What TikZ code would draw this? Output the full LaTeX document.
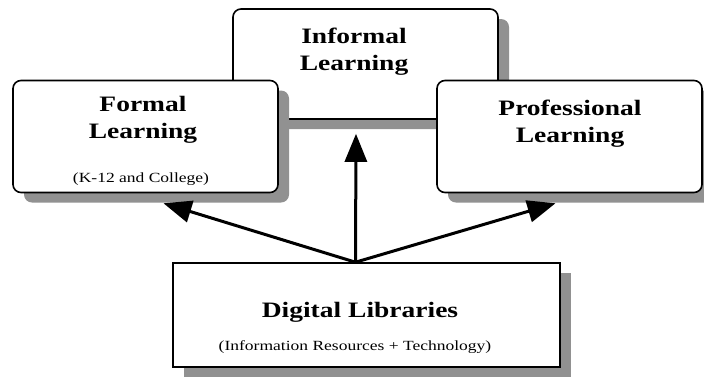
\documentclass[tikz,border=0pt]{standalone}
\usepackage{fontspec}
\setmainfont{Liberation Serif}[FakeStretch=1.25]
\usetikzlibrary{arrows.meta,shadows}
\definecolor{shadowgray}{RGB}{145,145,145}
\tikzset{
  box/.style={draw=black, line width=1.6pt, fill=white, inner sep=0pt,
    drop shadow={shadow xshift=11pt, shadow yshift=-10pt, fill=shadowgray, opacity=1}},
  roundbox/.style={box, rounded corners=8pt, minimum width=265pt, minimum height=112pt},
  title/.style={font=\fontsize{22}{27}\selectfont\bfseries, align=center, inner sep=0pt},
  sub/.style={font=\fontsize{14}{16}\selectfont, inner sep=0pt},
  arr/.style={line width=3pt, -{Triangle[length=28pt,width=22pt]}}
}
\begin{document}
\begin{tikzpicture}[x=1pt,y=-1pt]
\useasboundingbox (0,0) rectangle (704,376);
% boxes
\node[roundbox, minimum height=110pt] (informal) at (365.5,64) {};
\node[roundbox] (formal) at (145.5,136.5) {};
\node[roundbox] (prof) at (569.5,136.5) {};
\node[box, minimum width=387pt, minimum height=104pt] (dl) at (366.5,315) {};
% texts
\node[title] (informalt) at (354,52) {Informal\\Learning};
\node[title] (formalt) at (143,120) {Formal\\Learning};
\node[sub] (formals) at (141,179) {(K-12 and College)};
\node[title] (proft) at (570,124) {Professional\\Learning};
\node[title] (dlt) at (360,312) {Digital Libraries};
\node[sub] (dls) at (355,347) {(Information Resources + Technology)};
% connector ends
\coordinate (o) at ([xshift=-11pt]dl.north);
\coordinate (tf) at ([xshift=18pt,yshift=-10pt]formal.south);
\coordinate (ti) at ([xshift=-9.5pt,yshift=-14pt]informal.south);
\coordinate (tp) at ([xshift=-14pt,yshift=-10pt]prof.south);
\draw[arr] (o) -- (tf);
\draw[arr] (o) -- (ti);
\draw[arr] (o) -- (tp);
\end{tikzpicture}
\end{document}
